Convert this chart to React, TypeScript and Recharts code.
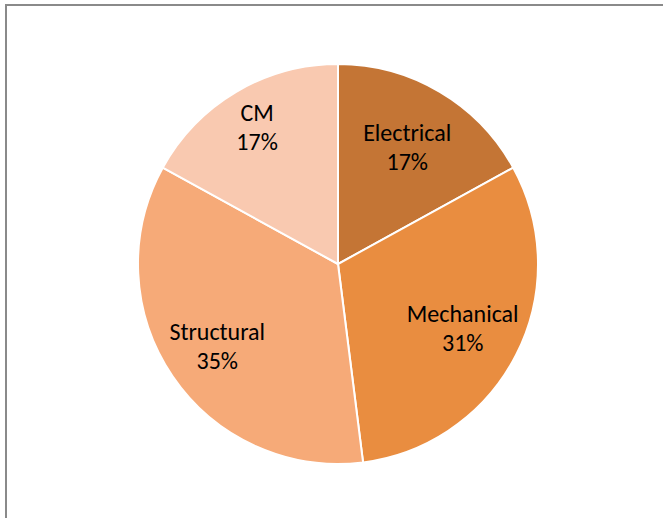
import { PieChart, Pie, Cell } from "recharts";

const labels = ["Electrical", "Mechanical", "Structural", "CM"];
const shares = [17, 31, 35, 17];
const colors = ["#C47535", "#E98D40", "#F6AA78", "#F9C9B0"];

const data = labels.map((name, i) => ({ name, value: shares[i] }));

// how far out (fraction of radius) each label sits, matching Excel's best-fit placement
const labelReach = [0.68, 0.7, 0.73, 0.795];

const RADIAN = Math.PI / 180;
const FONT = "Carlito, Calibri, Lato, sans-serif";

function SliceLabel(props: any) {
  const { cx, cy, midAngle, outerRadius, index } = props;
  const r = outerRadius * labelReach[index];
  const x = cx + r * Math.cos(-midAngle * RADIAN);
  const y = cy + r * Math.sin(-midAngle * RADIAN);
  return (
    <text x={x} y={y} textAnchor="middle" fill="#000" fontFamily={FONT} fontSize={24}>
      <tspan x={x} dy={-6}>{labels[index]}</tspan>
      <tspan x={x} dy={29}>{shares[index]}%</tspan>
    </text>
  );
}

export default function App() {
  return (
    <div style={{ position: "fixed", left: 0, top: 0, width: 663, height: 518, background: "#fff" }}>
      <svg width={663} height={518} style={{ position: "absolute", left: 0, top: 0 }}>
        <path d="M6,518 L6,5 L663,5" fill="none" stroke="#8a8a8a" strokeWidth={2} />
      </svg>
      <div style={{ position: "absolute", left: 0, top: 0, width: 663, height: 518 }}>
        <PieChart width={663} height={518} margin={{ top: 0, right: 0, bottom: 0, left: 0 }}>
          <Pie data={data} dataKey="value" nameKey="name" cx={338} cy={264}
               outerRadius={200} startAngle={90} endAngle={-270}
               stroke="#fff" strokeWidth={2} label={SliceLabel} labelLine={false}
               isAnimationActive={false}>
            {data.map((d, i) => <Cell key={d.name} fill={colors[i]} />)}
          </Pie>
        </PieChart>
      </div>
    </div>
  );
}
